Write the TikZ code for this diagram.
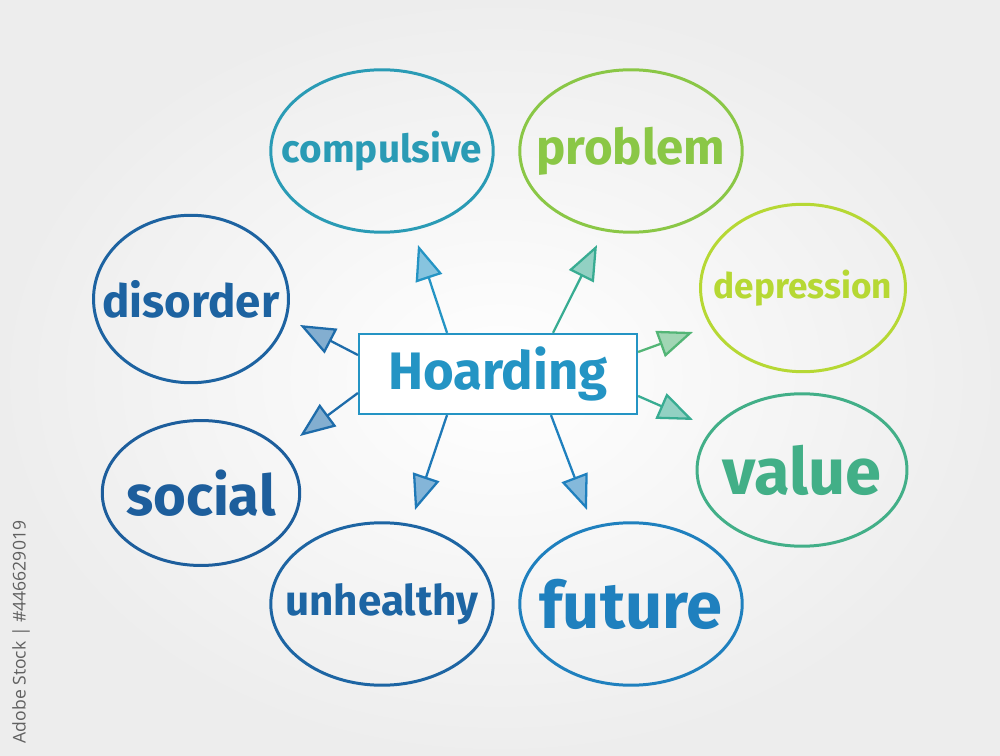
\documentclass[tikz,border=0pt]{standalone}
\usepackage{fontspec}
\setmainfont{Fira Sans}
\setsansfont{Open Sans}
\usetikzlibrary{shapes.geometric, arrows.meta, positioning, calc}

\definecolor{dblue}{HTML}{1D5E9C}
\definecolor{mblue}{HTML}{1F80BE}
\definecolor{lblue}{HTML}{2494C4}
\definecolor{teal}{HTML}{38AC92}
\definecolor{lgreen}{HTML}{7CC24C}
\definecolor{ygreen}{HTML}{A8D23A}
\definecolor{yellowl}{HTML}{D8E626}

% word without width, so the ellipse keeps its own size
\newcommand{\wrd}[1]{\makebox[0pt]{#1}}

\begin{document}
\begin{tikzpicture}[
        x=0.02cm, y=-0.02cm,
        bubble/.style={ellipse, draw=#1, line width=1.7pt, minimum width=4.45cm, minimum height=3.25cm, inner sep=0pt, font=\bfseries, text=#1},
        hubbox/.style={rectangle, draw=lblue, line width=1.3pt, fill=white, minimum width=5.56cm, minimum height=1.6cm, font=\fontsize{30}{31}\selectfont\bfseries, text=lblue},
        link/.style={draw=#1, line width=1.3pt, -{Triangle[length=7mm, width=5.5mm, fill=#1!55]}}
    ]
        % background
        \shade[inner color=white, outer color=gray!14] (0,0) rectangle (1000,756);
        \useasboundingbox (0,0) rectangle (1000,756);

        % centre
        \node[hubbox] (hub) at (498,374) {Hoarding};

        % bubbles
        \node[bubble=lblue!70!teal, font=\fontsize{22}{23}\selectfont\bfseries] (comp) at (382,151) {\wrd{compulsive}};
        \node[bubble=lgreen!85!yellowl, font=\fontsize{28}{29}\selectfont\bfseries] (prob) at (631,151) {\wrd{problem}};
        \node[bubble=ygreen!70!yellowl, minimum width=4.1cm, minimum height=3.35cm, font=\fontsize{20}{21}\selectfont\bfseries] (depr) at (803,288) {\wrd{depression}};
        \node[bubble=teal!85!lgreen, minimum width=4.2cm, minimum height=3.05cm, font=\fontsize{37}{38}\selectfont\bfseries] (valu) at (802,470) {\wrd{value}};
        \node[bubble=mblue, font=\fontsize{37}{38}\selectfont\bfseries] (futu) at (631,604) {\wrd{future}};
        \node[bubble=dblue!80!mblue, font=\fontsize{24}{25}\selectfont\bfseries] (unhe) at (382,604) {\wrd{unhealthy}};
        \node[bubble=dblue, minimum width=3.95cm, minimum height=2.9cm, font=\fontsize{32}{33}\selectfont\bfseries] (soci) at (201,493) {\wrd{social}};
        \node[bubble=dblue!85!mblue, minimum width=3.9cm, minimum height=3.35cm, font=\fontsize{26}{27}\selectfont\bfseries] (diso) at (191,299) {\wrd{disorder}};

        % arrow tips
        \coordinate (tcomp) at (418,245);
        \coordinate (tprob) at (597,245);
        \coordinate (tdepr) at (693,332);
        \coordinate (tvalu) at (693,420);
        \coordinate (tfutu) at (587,510);
        \coordinate (tunhe) at (415,510);
        \coordinate (tsoci) at (300,436);
        \coordinate (tdiso) at (300,325);

        % arrows
        \draw[link=lblue] ($(hub.north)+(-51,0)$) -- (tcomp);
        \draw[link=teal] ($(hub.north)+(55,0)$) -- (tprob);
        \draw[link=teal!60!lgreen] ($(hub.east)+(0,-22)$) -- (tdepr);
        \draw[link=teal] ($(hub.east)+(0,22)$) -- (tvalu);
        \draw[link=mblue] ($(hub.south)+(53,0)$) -- (tfutu);
        \draw[link=mblue!80!dblue] ($(hub.south)+(-51,0)$) -- (tunhe);
        \draw[link=dblue!60!mblue] ($(hub.west)+(0,19)$) -- (tsoci);
        \draw[link=dblue!60!mblue] ($(hub.west)+(0,-19)$) -- (tdiso);

        % stock id
        \node[rotate=90, text=gray!75!black, font=\sffamily\fontsize{10}{11}\selectfont] (stockid) at (21,632) {Adobe Stock | \#446629019};
    \end{tikzpicture}
\end{document}
